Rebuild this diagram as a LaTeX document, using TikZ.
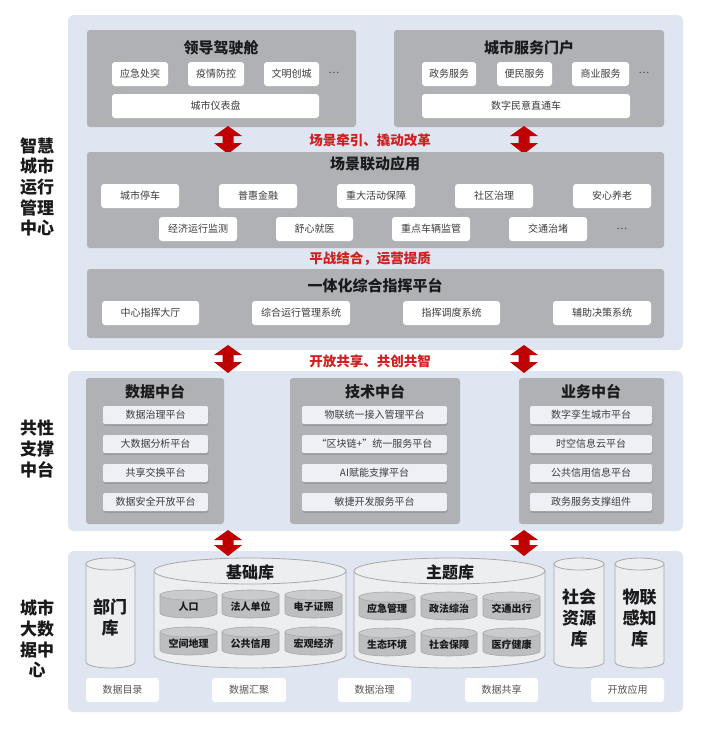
\documentclass[tikz,border=0pt]{standalone}
\usepackage{fontspec}
\setmainfont{Noto Sans CJK SC}
\usetikzlibrary{shadows}
\definecolor{panel}{HTML}{DFE6F1}
\definecolor{graybox}{HTML}{B0B1B5}
\definecolor{subfill}{HTML}{EEF0F6}
\definecolor{redtxt}{HTML}{D01F1F}
\definecolor{arrowred}{HTML}{C00000}
\definecolor{cylfill}{HTML}{EDEEF0}
\definecolor{cylline}{HTML}{A8A8A8}
\definecolor{incyl}{HTML}{BDBEC0}
\definecolor{incyltop}{HTML}{CACBCD}
\definecolor{txtdark}{HTML}{1A1A1A}
\definecolor{txtgray}{HTML}{3C3C3C}
\definecolor{txtlight}{HTML}{555555}
\newcommand\bx[7]{\node[#1,minimum width={(#5)-(#3)},minimum height={(#6)-(#4)}] (#2) at ({((#3)+(#5))/2},{((#4)+(#6))/2}) {#7};}
\newcommand\cyl[8]{%
  \pgfmathsetmacro\cxr{((#4)-(#2))/2}%
  \pgfmathsetmacro\cxc{((#2)+(#4))/2}%
  \path[#7] (#2,{(#3)+(#6)}) -- (#2,{(#5)-(#6)}) arc[start angle=180,end angle=360,x radius=\cxr pt,y radius=#6 pt] -- (#4,{(#3)+(#6)}) -- cycle;
  \path[#8] (\cxc,{(#3)+(#6)}) ellipse[x radius=\cxr pt,y radius=#6 pt];
  \coordinate (#1) at (\cxc,{((#3)+(#5))/2});
}
\newcommand\dar[4]{%
  \coordinate (#1t) at (#2,#3);
  \coordinate (#1b) at (#2,#4);
  \fill[arrowred] (#1t) -- ({#2+14},{#3+10}) -- ({#2+5.5},{#3+10}) -- ({#2+5.5},{#4-11}) -- ({#2+14},{#4-11}) -- (#1b) -- ({#2-14},{#4-11}) -- ({#2-5.5},{#4-11}) -- ({#2-5.5},{#3+10}) -- ({#2-14},{#3+10}) -- cycle;
}
\tikzset{
  panelbox/.style={fill=panel,rounded corners=6pt,inner sep=0pt},
  graybx/.style={fill=graybox,rounded corners=3pt,inner sep=0pt},
  wbox/.style={fill=white,rounded corners=3pt,inner sep=0pt,font=\fontsize{10}{12}\selectfont,text=txtgray},
  bbox/.style={fill=white,rounded corners=3pt,inner sep=0pt,font=\fontsize{10}{12}\selectfont,text=txtlight},
  subbox/.style={fill=subfill,rounded corners=2pt,inner sep=0pt,font=\fontsize{10}{12}\selectfont,text=txtgray,
    drop shadow={shadow xshift=0.5pt,shadow yshift=-1.8pt,opacity=0.45}},
  ttl/.style={font=\fontsize{15}{18}\selectfont\bfseries,text=txtdark,inner sep=0pt},
  side/.style={font=\fontsize{17}{20.7}\selectfont\bfseries,text=txtdark,align=center,inner sep=0pt},
  redlbl/.style={font=\fontsize{13.5}{16}\selectfont\bfseries,text=redtxt,inner sep=0pt},
  dots/.style={font=\fontsize{10}{12}\selectfont,text=txtgray,inner sep=0pt},
  bigcyl/.style={fill=cylfill,draw=cylline,line width=0.8pt},
  smallcyl/.style={fill=incyl,draw=cylline,line width=0.6pt},
  smalltop/.style={fill=incyltop,draw=cylline,line width=0.6pt},
  cyllbl/.style={font=\fontsize{10}{12}\selectfont\bfseries,text=txtdark,inner sep=0pt},
}
\begin{document}
\begin{tikzpicture}[x=1pt,y=-1pt]
\useasboundingbox (0,0) rectangle (720,732);
\fill[white] (0,0) rectangle (720,732);
% panels
\bx{panelbox}{p1}{68}{15}{683}{350}{}
\bx{panelbox}{p2}{68}{371}{683}{531}{}
\bx{panelbox}{p3}{68}{551}{683}{712}{}
% side labels
\node[side] (s1) at (37,187) {智慧\\城市\\运行\\管理\\中心};
\node[side] (s2) at (37,449) {共性\\支撑\\中台};
\node[side] (s3) at (37,639) {城市\\大数\\据中\\心};
% ===== top section
\bx{graybx}{ldjsc}{87}{30}{356}{127}{}
\node[ttl] (ldjsct) at (221,48) {领导驾驶舱};
\bx{wbox}{a1}{112}{62}{168}{86}{应急处突}
\bx{wbox}{a2}{188}{62}{244}{86}{疫情防控}
\bx{wbox}{a3}{264}{62}{319}{86}{文明创城}
\node[dots] (ad) at (334,73) {⋯};
\bx{wbox}{a4}{112}{94}{319}{118}{城市仪表盘}
\bx{graybx}{csfw}{394}{30}{664}{127}{}
\node[ttl] (csfwt) at (529,48) {城市服务门户};
\bx{wbox}{b1}{422}{62}{476}{86}{政务服务}
\bx{wbox}{b2}{497}{62}{552}{86}{便民服务}
\bx{wbox}{b3}{572}{62}{629}{86}{商业服务}
\node[dots] (bd) at (644,73) {⋯};
\bx{wbox}{b4}{422}{94}{630}{118}{数字民意直通车}
\dar{ar1}{228}{126}{154}
\dar{ar2}{524}{126}{154}
\node[redlbl] (r1) at (370,140) {场景牵引、撬动改革};
\bx{graybx}{cjld}{87}{152}{664}{248}{}
\node[ttl] (cjldt) at (375,164) {场景联动应用};
\bx{wbox}{c1}{101}{184}{179}{208}{城市停车}
\bx{wbox}{c2}{219}{184}{297}{208}{普惠金融}
\bx{wbox}{c3}{337}{184}{415}{208}{重大活动保障}
\bx{wbox}{c4}{455}{184}{533}{208}{社区治理}
\bx{wbox}{c5}{573}{184}{651}{208}{安心养老}
\bx{wbox}{c6}{159}{217}{237}{241}{经济运行监测}
\bx{wbox}{c7}{276}{217}{353}{241}{舒心就医}
\bx{wbox}{c8}{392}{217}{470}{241}{重点车辆监管}
\bx{wbox}{c9}{509}{217}{587}{241}{交通治堵}
\node[dots] (cd) at (622,229) {⋯};
\node[redlbl] (r2) at (370,259) {平战结合，运营提质};
\bx{graybx}{ythz}{87}{269}{664}{338}{}
\node[ttl] (ythzt) at (375,286) {一体化综合指挥平台};
\bx{wbox}{d1}{102}{301}{199}{325}{中心指挥大厅}
\bx{wbox}{d2}{252}{301}{350}{325}{综合运行管理系统}
\bx{wbox}{d3}{403}{301}{500}{325}{指挥调度系统}
\bx{wbox}{d4}{553}{301}{651}{325}{辅助决策系统}
\dar{ar3}{228}{345}{373}
\dar{ar4}{524}{345}{373}
\node[redlbl] (r3) at (370,361) {开放共享、共创共智};
% ===== middle section
\bx{graybx}{sjzt}{86}{378}{224}{524}{}
\node[ttl] (sjztt) at (155,392) {数据中台};
\bx{subbox}{e1}{103}{406}{208}{424}{数据治理平台}
\bx{subbox}{e2}{103}{435}{208}{453}{大数据分析平台}
\bx{subbox}{e3}{103}{464}{208}{482}{共享交换平台}
\bx{subbox}{e4}{103}{493}{208}{511}{数据安全开放平台}
\bx{graybx}{jszt}{290}{378}{460}{524}{}
\node[ttl] (jsztt) at (375,392) {技术中台};
\bx{subbox}{f1}{302}{406}{447}{424}{物联统一接入管理平台}
\bx{subbox}{f2}{302}{435}{447}{453}{“区块链+”统一服务平台}
\bx{subbox}{f3}{302}{464}{447}{482}{AI赋能支撑平台}
\bx{subbox}{f4}{302}{493}{447}{511}{敏捷开发服务平台}
\bx{graybx}{ywzt}{519}{378}{664}{524}{}
\node[ttl] (ywztt) at (591,392) {业务中台};
\bx{subbox}{g1}{530}{406}{652}{424}{数字孪生城市平台}
\bx{subbox}{g2}{530}{435}{652}{453}{时空信息云平台}
\bx{subbox}{g3}{530}{464}{652}{482}{公共信用信息平台}
\bx{subbox}{g4}{530}{493}{652}{511}{政务服务支撑组件}
\dar{ar5}{228}{530}{556}
\dar{ar6}{524}{530}{556}
% ===== bottom section
\cyl{bmk}{86}{558}{135}{668}{6}{bigcyl}{bigcyl}
\node[side] (bmkt) at (110,617.5) {部门\\库};
\cyl{jck}{154}{558}{346}{668}{13}{bigcyl}{bigcyl}
\node[ttl,font=\fontsize{16}{18}\selectfont\bfseries] (jckt) at (250,572) {基础库};
\cyl{h1}{160}{590}{217}{618}{5}{smallcyl}{smalltop}
\cyl{h2}{222}{590}{279}{618}{5}{smallcyl}{smalltop}
\cyl{h3}{285}{590}{342}{618}{5}{smallcyl}{smalltop}
\cyl{h4}{160}{627}{217}{655}{5}{smallcyl}{smalltop}
\cyl{h5}{222}{627}{279}{655}{5}{smallcyl}{smalltop}
\cyl{h6}{285}{627}{342}{655}{5}{smallcyl}{smalltop}
\node[cyllbl] at ([yshift=-3pt]h1) {人口};
\node[cyllbl] at ([yshift=-3pt]h2) {法人单位};
\node[cyllbl] at ([yshift=-3pt]h3) {电子证照};
\node[cyllbl] at ([yshift=-3pt]h4) {空间地理};
\node[cyllbl] at ([yshift=-3pt]h5) {公共信用};
\node[cyllbl] at ([yshift=-3pt]h6) {宏观经济};
\cyl{ztk}{354}{558}{545}{668}{13}{bigcyl}{bigcyl}
\node[ttl,font=\fontsize{16}{18}\selectfont\bfseries] (ztkt) at (450,572) {主题库};
\cyl{k1}{359}{592}{415}{620}{5}{smallcyl}{smalltop}
\cyl{k2}{421}{592}{477}{620}{5}{smallcyl}{smalltop}
\cyl{k3}{483}{592}{540}{620}{5}{smallcyl}{smalltop}
\cyl{k4}{359}{628}{415}{656}{5}{smallcyl}{smalltop}
\cyl{k5}{421}{628}{477}{656}{5}{smallcyl}{smalltop}
\cyl{k6}{483}{628}{540}{656}{5}{smallcyl}{smalltop}
\node[cyllbl] at ([yshift=-3pt]k1) {应急管理};
\node[cyllbl] at ([yshift=-3pt]k2) {政法综治};
\node[cyllbl] at ([yshift=-3pt]k3) {交通出行};
\node[cyllbl] at ([yshift=-3pt]k4) {生态环境};
\node[cyllbl] at ([yshift=-3pt]k5) {社会保障};
\node[cyllbl] at ([yshift=-3pt]k6) {医疗健康};
\cyl{shzy}{554}{558}{604}{668}{6}{bigcyl}{bigcyl}
\node[side] (shzyt) at (579,618) {社会\\资源\\库};
\cyl{wlgz}{615}{558}{664}{668}{6}{bigcyl}{bigcyl}
\node[side] (wlgzt) at (639.5,618) {物联\\感知\\库};
\bx{bbox}{m1}{86}{678}{159}{702}{数据目录}
\bx{bbox}{m2}{212}{678}{286}{702}{数据汇聚}
\bx{bbox}{m3}{338}{678}{411}{702}{数据治理}
\bx{bbox}{m4}{465}{678}{538}{702}{数据共享}
\bx{bbox}{m5}{591}{678}{664}{702}{开放应用}
\end{tikzpicture}
\end{document}
